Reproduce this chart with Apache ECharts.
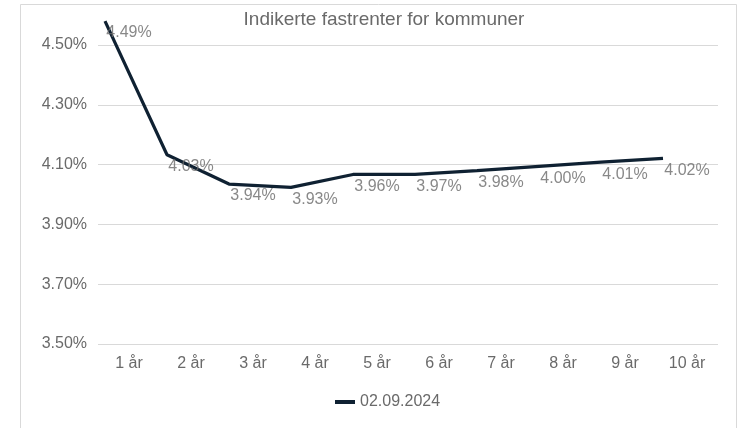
<!DOCTYPE html>
<html>
<head>
<meta charset="utf-8">
<script src="https://cdn.jsdelivr.net/npm/echarts@6/dist/echarts.min.js"></script>
<style>
html,body{margin:0;padding:0;background:#fff;}
#c{width:740px;height:428px;}
</style>
</head>
<body>
<div id="c"></div>
<script>
const title = 'Indikerte fastrenter for kommuner';
const seriesName = '02.09.2024';
const categories = ['1 år','2 år','3 år','4 år','5 år','6 år','7 år','8 år','9 år','10 år'];
const plottedValues = [4.58, 4.133, 4.035, 4.024, 4.067, 4.067, 4.08, 4.094, 4.108, 4.121];
const labelTexts = ['4.49%','4.03%','3.94%','3.93%','3.96%','3.97%','3.98%','4.00%','4.01%','4.02%'];
const yMin = 3.5, yMax = 4.5, yStep = 0.2;

const chart = echarts.init(document.getElementById('c'), null, {renderer:'canvas'});
const font = 'Liberation Sans, Arial, sans-serif';
const gray = '#6a6a6a';
const lineColor = '#0f2132';

chart.setOption({
  animation: false,
  backgroundColor: '#fff',
  graphic: [{
    type: 'rect', shape: {x: 20.5, y: 4.5, width: 716, height: 440},
    style: {fill: 'none', stroke: '#d9d9d9', lineWidth: 1}, silent: true, z: -1
  }],
  title: {
    text: title, left: 379, textAlign: 'center', top: 5,
    textStyle: {fontFamily: font, fontSize: 19, fontWeight: 'normal', color: gray}
  },
  legend: {
    data: [seriesName], left: 335, top: 394, padding: 0,
    icon: 'rect', itemWidth: 20, itemHeight: 4,
    textStyle: {fontFamily: font, fontSize: 16, color: gray}
  },
  grid: [
    {left: 98, right: 22, top: 45, bottom: 84},
    {left: 105, right: 77, top: 45, bottom: 84}
  ],
  xAxis: [
    {
      type: 'category', gridIndex: 0, data: categories, boundaryGap: true,
      axisLine: {show: false}, axisTick: {show: false},
      axisLabel: {fontFamily: font, fontSize: 16, color: gray, margin: 12}
    },
    {
      type: 'category', gridIndex: 1, data: categories, boundaryGap: false, show: false
    }
  ],
  yAxis: [
    {
      type: 'value', gridIndex: 0, min: yMin, max: yMax, interval: yStep,
      axisLine: {show: false}, axisTick: {show: false},
      splitLine: {lineStyle: {color: '#d9d9d9', width: 1}},
      axisLabel: {fontFamily: font, fontSize: 16, color: gray, margin: 11,
        formatter: v => v.toFixed(2) + '%'}
    },
    {
      type: 'value', gridIndex: 1, min: yMin, max: yMax, show: false, splitLine: {show: false}
    }
  ],
  series: [
    {
      name: seriesName, type: 'line', xAxisIndex: 1, yAxisIndex: 1,
      data: plottedValues, symbol: 'none', clip: false,
      lineStyle: {color: lineColor, width: 3.2}, itemStyle: {color: lineColor}, z: 3
    },
    {
      name: 'labels', type: 'scatter', xAxisIndex: 0, yAxisIndex: 0,
      data: plottedValues, symbolSize: 0, clip: false, silent: true, z: 4,
      label: {
        show: true, position: 'inside', offset: [0, 12],
        fontFamily: font, fontSize: 16, color: gray,
        formatter: p => labelTexts[p.dataIndex]
      }
    }
  ]
});
</script>
</body>
</html>
